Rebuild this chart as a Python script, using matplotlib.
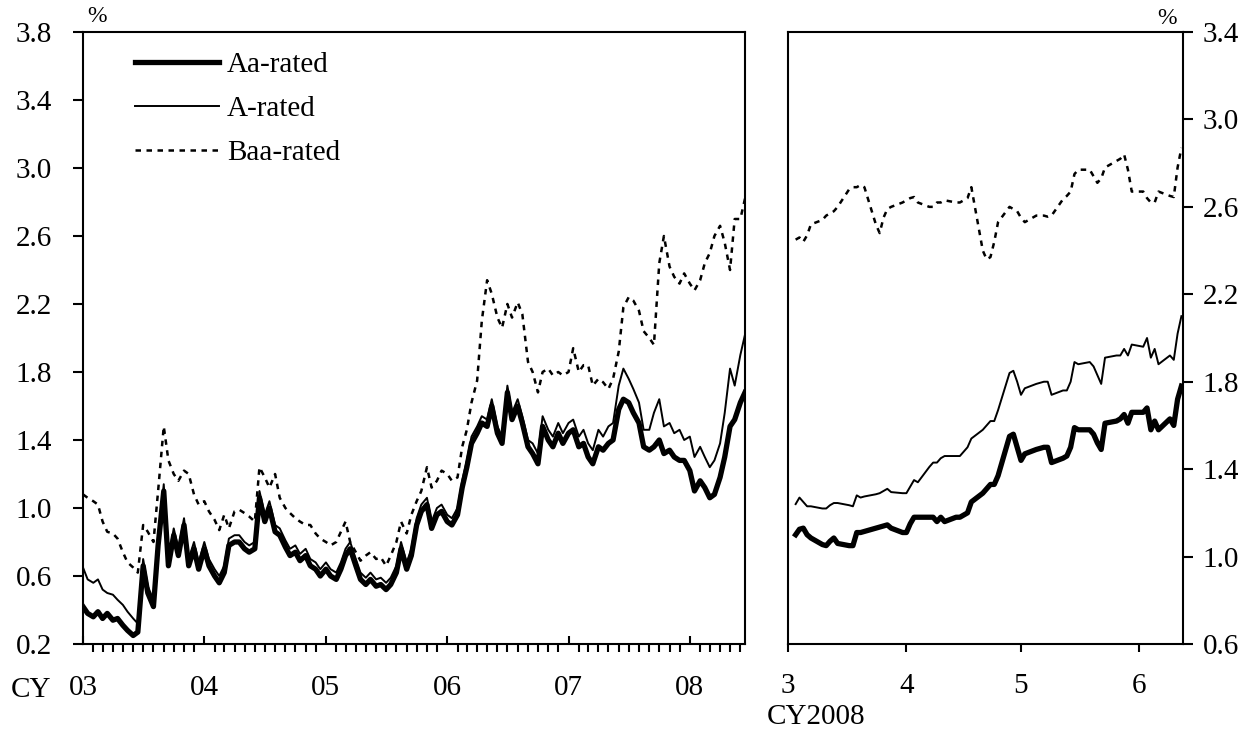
import numpy as np
import pandas as pd
import matplotlib
matplotlib.use('Agg')
import matplotlib.pyplot as plt
import matplotlib.dates as mdates
from matplotlib.ticker import FuncFormatter, FormatStrFormatter

plt.rcParams['font.family'] = ['Liberation Serif', 'DejaVu Serif']

# left panel: semi-monthly readings, CY2003 - mid CY2008 (%)
left_start = '2003-01-01'
aa_long = [0.42, 0.38, 0.36, 0.39, 0.35, 0.38, 0.34, 0.35, 0.31, 0.28, 0.25, 0.27,
           0.66, 0.50, 0.42, 0.78, 1.10, 0.66, 0.84, 0.72, 0.90, 0.66, 0.76, 0.64,
           0.76, 0.66, 0.60, 0.56, 0.62, 0.78, 0.80, 0.80, 0.76, 0.74, 0.76, 1.06,
           0.92, 1.00, 0.86, 0.84, 0.77, 0.72, 0.74, 0.69, 0.72, 0.66, 0.64, 0.60,
           0.64, 0.60, 0.58, 0.64, 0.72, 0.76, 0.66, 0.58, 0.55, 0.58, 0.54, 0.55,
           0.52, 0.55, 0.62, 0.76, 0.64, 0.72, 0.90, 0.98, 1.02, 0.88, 0.96, 0.98,
           0.92, 0.90, 0.96, 1.12, 1.24, 1.38, 1.44, 1.50, 1.48, 1.60, 1.44, 1.38,
           1.68, 1.52, 1.60, 1.50, 1.36, 1.32, 1.26, 1.48, 1.40, 1.36, 1.44, 1.38,
           1.44, 1.46, 1.36, 1.38, 1.30, 1.26, 1.36, 1.34, 1.38, 1.40, 1.58, 1.64,
           1.62, 1.56, 1.50, 1.36, 1.34, 1.36, 1.40, 1.32, 1.34, 1.30, 1.28, 1.28,
           1.22, 1.10, 1.16, 1.12, 1.06, 1.08, 1.18, 1.30, 1.48, 1.52, 1.62, 1.68]
a_long = [0.65, 0.58, 0.56, 0.58, 0.52, 0.50, 0.49, 0.46, 0.43, 0.39, 0.35, 0.32,
          0.70, 0.54, 0.46, 0.82, 1.14, 0.70, 0.88, 0.76, 0.94, 0.70, 0.80, 0.68,
          0.80, 0.70, 0.64, 0.60, 0.66, 0.82, 0.84, 0.84, 0.80, 0.78, 0.80, 1.10,
          0.96, 1.04, 0.90, 0.88, 0.81, 0.76, 0.78, 0.73, 0.76, 0.70, 0.68, 0.64,
          0.68, 0.64, 0.62, 0.68, 0.76, 0.80, 0.70, 0.62, 0.59, 0.62, 0.58, 0.59,
          0.56, 0.59, 0.66, 0.80, 0.68, 0.76, 0.94, 1.02, 1.06, 0.92, 1.00, 1.02,
          0.96, 0.94, 1.00, 1.16, 1.28, 1.42, 1.48, 1.54, 1.52, 1.64, 1.48, 1.42,
          1.72, 1.56, 1.64, 1.54, 1.40, 1.38, 1.32, 1.54, 1.46, 1.42, 1.50, 1.44,
          1.50, 1.52, 1.42, 1.46, 1.38, 1.34, 1.46, 1.42, 1.48, 1.50, 1.72, 1.82,
          1.76, 1.70, 1.62, 1.46, 1.46, 1.56, 1.64, 1.48, 1.50, 1.44, 1.46, 1.40,
          1.42, 1.30, 1.36, 1.30, 1.24, 1.28, 1.38, 1.56, 1.82, 1.72, 1.90, 2.02]
baa_long = [1.08, 1.06, 1.04, 1.02, 0.92, 0.86, 0.85, 0.82, 0.74, 0.68, 0.65, 0.62,
            0.90, 0.86, 0.80, 1.10, 1.48, 1.28, 1.20, 1.16, 1.22, 1.20, 1.08, 1.02,
            1.04, 0.98, 0.93, 0.87, 0.96, 0.88, 0.98, 0.99, 0.97, 0.95, 0.92, 1.24,
            1.18, 1.12, 1.20, 1.06, 1.00, 0.97, 0.94, 0.92, 0.90, 0.90, 0.85, 0.82,
            0.80, 0.78, 0.80, 0.86, 0.92, 0.80, 0.74, 0.69, 0.72, 0.74, 0.70, 0.71,
            0.66, 0.72, 0.80, 0.92, 0.85, 0.96, 1.04, 1.10, 1.24, 1.12, 1.16, 1.22,
            1.20, 1.16, 1.18, 1.36, 1.46, 1.62, 1.75, 2.10, 2.34, 2.26, 2.12, 2.06,
            2.20, 2.12, 2.21, 2.14, 1.86, 1.80, 1.68, 1.80, 1.82, 1.78, 1.80, 1.78,
            1.80, 1.94, 1.80, 1.84, 1.84, 1.72, 1.76, 1.74, 1.70, 1.76, 1.92, 2.18,
            2.24, 2.22, 2.16, 2.04, 2.00, 1.96, 2.44, 2.60, 2.42, 2.36, 2.32, 2.38,
            2.32, 2.28, 2.34, 2.44, 2.50, 2.60, 2.66, 2.56, 2.40, 2.70, 2.70, 2.82]

# right panel: business-day readings, Mar 3 - Jun 12 2008 (%)
right_start = '2008-03-03'
right_end = '2008-06-12'
aa_short = [1.10, 1.125, 1.13, 1.10, 1.085, 1.055, 1.05, 1.07, 1.085, 1.06,
            1.05, 1.05, 1.11, 1.11, 1.115, 1.13, 1.135, 1.14, 1.145, 1.13, 1.11,
            1.11, 1.15, 1.18, 1.18, 1.18, 1.18, 1.16, 1.18, 1.16, 1.18, 1.18,
            1.19, 1.20, 1.25, 1.29, 1.31, 1.33, 1.33, 1.37, 1.55, 1.56, 1.50,
            1.44, 1.47, 1.49, 1.495, 1.50, 1.50, 1.43, 1.45, 1.46, 1.50, 1.59,
            1.58, 1.58, 1.56, 1.52, 1.49, 1.61, 1.62, 1.63, 1.65, 1.61, 1.66,
            1.66, 1.68, 1.58, 1.62, 1.58, 1.63, 1.60, 1.72, 1.78]
a_short = [1.24, 1.27, 1.25, 1.23, 1.23, 1.22, 1.22, 1.235, 1.245, 1.245,
           1.235, 1.23, 1.28, 1.27, 1.275, 1.285, 1.29, 1.30, 1.31, 1.295, 1.29,
           1.29, 1.32, 1.35, 1.34, 1.41, 1.43, 1.43, 1.45, 1.46, 1.46, 1.46,
           1.48, 1.50, 1.54, 1.58, 1.60, 1.62, 1.62, 1.67, 1.84, 1.85, 1.80,
           1.74, 1.77, 1.79, 1.795, 1.80, 1.80, 1.74, 1.76, 1.76, 1.80, 1.89,
           1.88, 1.89, 1.87, 1.83, 1.79, 1.91, 1.92, 1.92, 1.95, 1.92, 1.97,
           1.96, 2.00, 1.91, 1.95, 1.88, 1.92, 1.90, 2.02, 2.10]
baa_short = [2.45, 2.46, 2.44, 2.47, 2.52, 2.54, 2.56, 2.57, 2.58, 2.60,
             2.68, 2.69, 2.69, 2.70, 2.69, 2.52, 2.48, 2.55, 2.59, 2.60, 2.62,
             2.63, 2.64, 2.645, 2.62, 2.60, 2.60, 2.62, 2.62, 2.63, 2.62, 2.62,
             2.63, 2.64, 2.69, 2.40, 2.36, 2.37, 2.44, 2.53, 2.60, 2.59, 2.58,
             2.55, 2.53, 2.56, 2.56, 2.56, 2.555, 2.56, 2.635, 2.65, 2.67, 2.75,
             2.77, 2.77, 2.74, 2.71, 2.73, 2.78, 2.81, 2.82, 2.84, 2.77, 2.67,
             2.67, 2.64, 2.62, 2.62, 2.67, 2.65, 2.645, 2.78, 2.87]

left_yticks = np.arange(0.2, 3.81, 0.4)
right_yticks = np.arange(0.6, 3.41, 0.4)

dates_long = pd.date_range(left_start, periods=len(aa_long), freq='SMS')
dates_short = pd.bdate_range(right_start, right_end)

fig = plt.figure(figsize=(12.53, 7.34), dpi=100)
ax1 = fig.add_axes([83 / 1253, 1 - 644 / 734, 662 / 1253, 612 / 734])
ax2 = fig.add_axes([788 / 1253, 1 - 644 / 734, 395 / 1253, 612 / 734])

fs = 21
dash = (0, (2.2, 2.2))

ax1.plot(dates_long, aa_long, color='k', lw=3.8, label='Aa-rated')
ax1.plot(dates_long, a_long, color='k', lw=1.4, label='A-rated')
ax1.plot(dates_long, baa_long, color='k', lw=1.8, linestyle=dash, label='Baa-rated')

ax1.set_xlim(dates_long[0], dates_long[-1])
ax1.set_ylim(0.2, 3.8)
ax1.set_yticks(left_yticks)
ax1.yaxis.set_major_formatter(FormatStrFormatter('%.1f'))
ax1.xaxis.set_major_locator(mdates.YearLocator())
ax1.xaxis.set_major_formatter(mdates.DateFormatter('%y'))
ax1.xaxis.set_minor_locator(mdates.MonthLocator(bymonth=range(2, 13)))
ax1.tick_params(axis='y', direction='out', length=7, width=1.5, pad=15.5, labelsize=fs)
ax1.tick_params(axis='x', which='major', direction='in', length=6, width=1.5, pad=22, labelsize=fs)
ax1.tick_params(axis='x', which='minor', direction='out', length=5.5, width=1.5)

leg = ax1.legend(loc='upper left', bbox_to_anchor=(0.078, 0.968), frameon=False,
                 fontsize=fs, handlelength=2.9, handletextpad=0.27,
                 labelspacing=0.6, borderpad=0, borderaxespad=0)

ax2.plot(dates_short, aa_short, color='k', lw=3.8)
ax2.plot(dates_short, a_short, color='k', lw=1.4)
ax2.plot(dates_short, baa_short, color='k', lw=1.8, linestyle=dash)

ax2.set_xlim(np.datetime64('2008-03-01'), np.datetime64('2008-06-12T10:00'))
ax2.set_ylim(0.6, 3.4)
ax2.set_yticks(right_yticks)
ax2.yaxis.set_major_formatter(FormatStrFormatter('%.1f'))
ax2.yaxis.tick_right()
ax2.xaxis.set_major_locator(mdates.MonthLocator())
ax2.xaxis.set_major_formatter(FuncFormatter(lambda v, p: str(mdates.num2date(v).month)))
ax2.tick_params(axis='y', direction='out', length=7, width=1.5, pad=7, labelsize=fs)
ax2.tick_params(axis='x', direction='out', length=6, width=1.5, pad=15, labelsize=fs)

for ax in (ax1, ax2):
    for sp in ax.spines.values():
        sp.set_linewidth(1.5)

fig.text(31 / 1253, 1 - 690 / 734, 'CY', fontsize=fs, ha='center', va='center')
fig.text(767 / 1253, 1 - 717 / 734, 'CY2008', fontsize=fs, ha='left', va='center')
fig.text(97 / 1253, 1 - 17 / 734, '%', fontsize=17, ha='center', va='center')
fig.text(1167 / 1253, 1 - 19 / 734, '%', fontsize=17, ha='center', va='center')

fig.savefig('out.png', dpi=100)
